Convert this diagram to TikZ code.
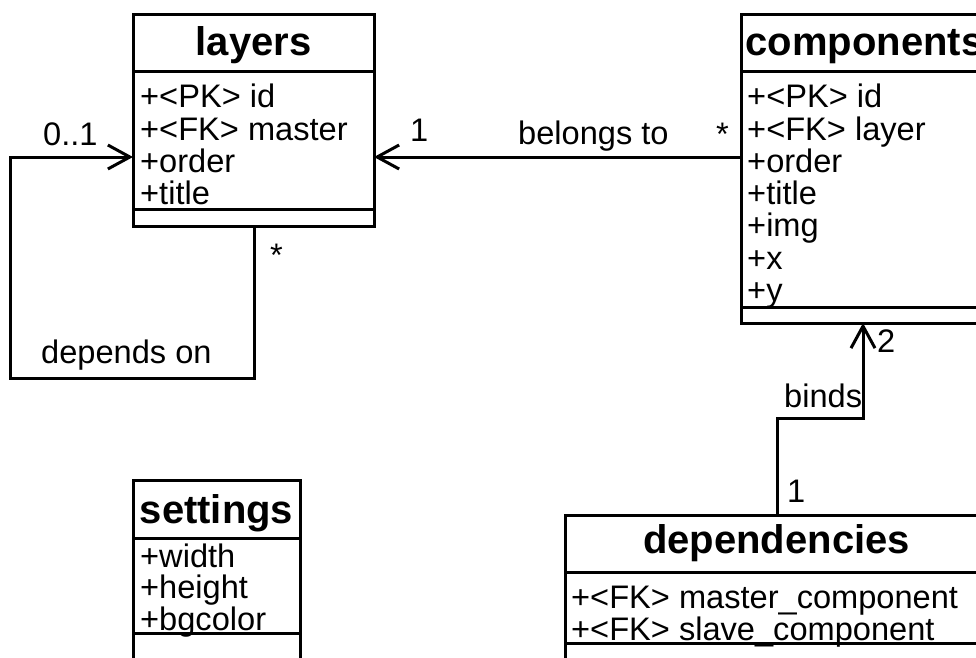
\documentclass[tikz,border=0pt]{standalone}
\usepackage{fontspec}
\setmainfont{Liberation Sans}
\usetikzlibrary{arrows.meta}
\begin{document}
\begin{tikzpicture}[x=1pt,y=-1pt,
  box/.style={draw, line width=3pt, rectangle, inner sep=0pt, outer sep=0pt, fill=white},
  sep/.style={line width=3pt},
  ttl/.style={anchor=base, inner sep=0pt, font=\fontsize{40}{40}\selectfont\bfseries},
  attr/.style={anchor=base west, inner sep=0pt, font=\fontsize{32.6}{32.6}\selectfont},
  lbl/.style={anchor=base west, inner sep=0pt, font=\fontsize{32.6}{32.6}\selectfont},
  conn/.style={line width=3pt},
  tip/.style={-{Straight Barb[length=22pt, width=24pt, line width=3pt]}}
]
\useasboundingbox (0,0) rectangle (976,657);
\clip (0,0) rectangle (976,657);
\fill[white] (0,0) rectangle (976,657);

% ---------- layers ----------
\node[box, minimum width=241pt, minimum height=212pt] (layers) at (253.5,120) {};
\node[ttl] (layersT) at (253.5,55) {layers};
\node[attr] (la1) at (140,107) {+<PK> id};
\node[attr] (la2) at (140,140) {+<FK> master};
\node[attr] (la3) at (140,172) {+order};
\node[attr] (la4) at (140,204) {+title};
\draw[sep] (133,71) -- (374,71);
\draw[sep] (133,209) -- (374,209);

% ---------- components ----------
\node[box, minimum width=247pt, minimum height=309pt] (comp) at (864.5,168.5) {};
\node[ttl] (compT) at (864.5,55) {components};
\node[attr] (ca1) at (747,107) {+<PK> id};
\node[attr] (ca2) at (747,140) {+<FK> layer};
\node[attr] (ca3) at (747,172) {+order};
\node[attr] (ca4) at (747,204) {+title};
\node[attr] (ca5) at (747,236) {+img};
\node[attr] (ca6) at (747,269) {+x};
\node[attr] (ca7) at (747,301) {+y};
\draw[sep] (741,71) -- (988,71);
\draw[sep] (741,307) -- (988,307);

% ---------- dependencies ----------
\node[box, minimum width=423pt, minimum height=185pt] (dep) at (776.5,607.5) {};
\node[ttl] (depT) at (776.5,553) {dependencies};
\node[attr] (da1) at (571,608) {+<FK> master\_component};
\node[attr] (da2) at (571,640) {+<FK> slave\_component};
\draw[sep] (565,572) -- (988,572);
\draw[sep] (565,643) -- (988,643);

% ---------- settings ----------
\node[box, minimum width=167pt, minimum height=220pt] (set) at (216.5,590) {};
\node[ttl] (setT) at (216.5,523) {settings};
\node[attr] (sa1) at (140,567) {+width};
\node[attr] (sa2) at (140,598) {+height};
\node[attr] (sa3) at (140,630) {+bgcolor};
\draw[sep] (133,538) -- (300,538);
\draw[sep] (133,633) -- (300,633);

% ---------- connectors ----------
\coordinate (belY) at (0,157);
\draw[conn, tip] (comp.west |- belY) -- (layers.east |- belY);
\node[lbl] (bel1) at (410,141) {1};
\node[lbl] (belT) at (518,144) {belongs to};
\node[lbl] (belS) at (716,145) {*};

\coordinate (depX) at (254,0);
\coordinate (loopA) at (254,378);
\coordinate (loopB) at (10,378);
\coordinate (loopC) at (10,157);
\draw[conn, tip] (layers.south -| depX) -- (loopA) -- (loopB) -- (loopC) -- (layers.west |- loopC);
\node[lbl] (dep01) at (43,145) {0..1};
\node[lbl] (depS) at (270,266) {*};
\node[lbl] (depT2) at (41,363) {depends on};

\coordinate (bindA) at (777,418);
\coordinate (bindB) at (863,418);
\draw[conn, tip] (dep.north -| bindA) -- (bindA) -- (bindB) -- (comp.south -| bindB);
\node[lbl] (bind2) at (877,352) {2};
\node[lbl] (bindT) at (784,407) {binds};
\node[lbl] (bind1) at (787,502) {1};
\end{tikzpicture}
\end{document}
